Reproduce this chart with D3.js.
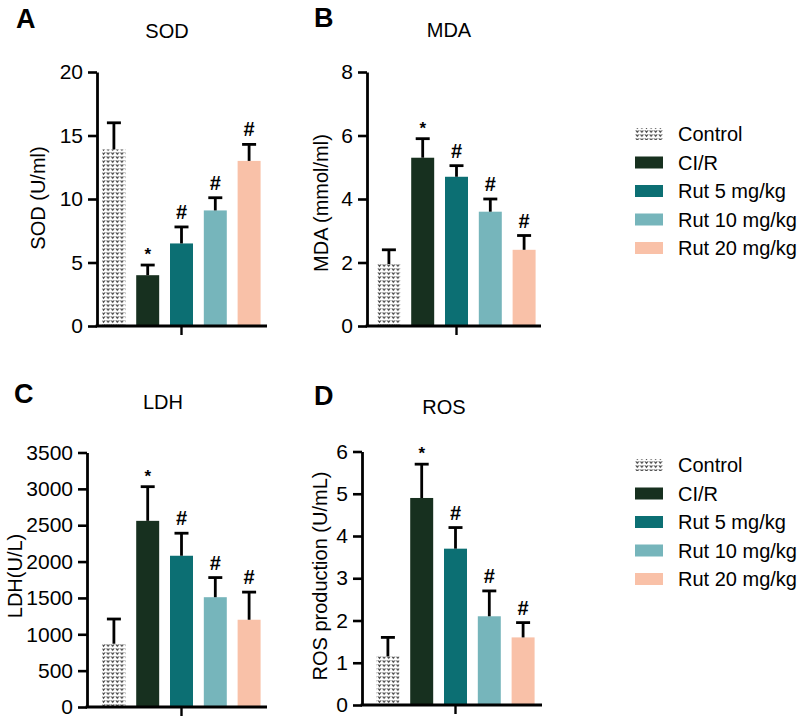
<!DOCTYPE html>
<html>
<head>
<meta charset="utf-8">
<script src="https://cdn.jsdelivr.net/npm/d3@7"></script>
<style>
  html, body { margin: 0; padding: 0; background: #fff; }
  svg text { font-family: "Liberation Sans", Arial, Helvetica, sans-serif; fill: #000; }
</style>
</head>
<body>
<svg id="chart" width="805" height="720"></svg>
<script>
// ---------- data ----------
const groups = ["Control", "CI/R", "Rut 5 mg/kg", "Rut 10 mg/kg", "Rut 20 mg/kg"];
const groupColors = ["url(#ctrlPattern)", "#17301f", "#0c6f73", "#76b5bb", "#f9c1a8"];
const sigMarks = ["", "*", "#", "#", "#"];

const sodMean = [13.9, 4.0, 6.5, 9.1, 13.0];
const sodErr  = [2.1, 0.8, 1.3, 1.0, 1.3];
const sodTicks = [0, 5, 10, 15, 20];

const mdaMean = [1.95, 5.3, 4.7, 3.6, 2.4];
const mdaErr  = [0.45, 0.6, 0.35, 0.4, 0.45];
const mdaTicks = [0, 2, 4, 6, 8];

const ldhMean = [870, 2560, 2080, 1510, 1200];
const ldhErr  = [340, 470, 310, 270, 380];
const ldhTicks = [0, 500, 1000, 1500, 2000, 2500, 3000, 3500];

const rosMean = [1.15, 4.9, 3.7, 2.1, 1.6];
const rosErr  = [0.45, 0.8, 0.5, 0.6, 0.35];
const rosTicks = [0, 1, 2, 3, 4, 5, 6];

// ---------- drawing ----------
const svg = d3.select("#chart");
const defs = svg.append("defs");
const pat = defs.append("pattern")
  .attr("id", "ctrlPattern")
  .attr("patternUnits", "userSpaceOnUse")
  .attr("width", 4.6).attr("height", 4);
pat.append("rect").attr("width", 4.6).attr("height", 4).attr("fill", "#ffffff");
pat.append("path")
  .attr("d", "M0.3,0.4 Q1.3,-0.2 2.3,1.0 Q3.3,-0.2 4.3,0.4 L2.3,3.2 Z")
  .attr("fill", "#4a4a4a");

const panels = [
  { letter: "A", title: "SOD", ylabel: "SOD (U/ml)", mean: sodMean, err: sodErr, ticks: sodTicks,
    axisX: 97, xEnd: 267, band: [97, 266], y: [326, 72], letterPos: [16, 28], titlePos: [167, 38], ylabPos: [38, 198] },
  { letter: "B", title: "MDA", ylabel: "MDA (mmol/ml)", mean: mdaMean, err: mdaErr, ticks: mdaTicks,
    axisX: 367, xEnd: 541, band: [372, 541], y: [326, 72], letterPos: [314, 27], titlePos: [449, 37], ylabPos: [321, 203] },
  { letter: "C", title: "LDH", ylabel: "LDH(U/L)", mean: ldhMean, err: ldhErr, ticks: ldhTicks,
    axisX: 87, xEnd: 267, band: [97, 266], y: [707, 452.5], letterPos: [14, 403], titlePos: [163, 409], ylabPos: [15, 576] },
  { letter: "D", title: "ROS", ylabel: "ROS production (U/mL)", mean: rosMean, err: rosErr, ticks: rosTicks,
    axisX: 362, xEnd: 542, band: [371, 540], y: [705, 451.5], letterPos: [314, 405], titlePos: [444, 414], ylabPos: [320, 576] }
];

panels.forEach(p => {
  const g = svg.append("g");
  const x = d3.scaleBand().domain(groups).range(p.band).paddingInner(0.32).paddingOuter(0.16);
  const y = d3.scaleLinear().domain([p.ticks[0], p.ticks[p.ticks.length - 1]]).range(p.y);

  // letter & title
  g.append("text").attr("x", p.letterPos[0]).attr("y", p.letterPos[1])
    .attr("font-size", 27).attr("font-weight", "bold").text(p.letter);
  g.append("text").attr("x", p.titlePos[0]).attr("y", p.titlePos[1])
    .attr("text-anchor", "middle").attr("font-size", 20).text(p.title);
  g.append("text")
    .attr("transform", `translate(${p.ylabPos[0]},${p.ylabPos[1]}) rotate(-90)`)
    .attr("text-anchor", "middle").attr("dy", "0.35em")
    .attr("font-size", 20).text(p.ylabel);

  // bars
  g.selectAll("rect.bar").data(groups).enter().append("rect")
    .attr("class", "bar")
    .attr("x", d => x(d))
    .attr("width", x.bandwidth())
    .attr("y", (d, i) => y(p.mean[i]))
    .attr("height", (d, i) => y(0) - y(p.mean[i]))
    .attr("fill", (d, i) => groupColors[i]);

  // error bars
  const eb = g.selectAll("g.eb").data(groups).enter().append("g")
    .attr("transform", d => `translate(${x(d) + x.bandwidth() / 2},0)`);
  eb.append("line")
    .attr("y1", (d, i) => y(p.mean[i]))
    .attr("y2", (d, i) => y(p.mean[i] + p.err[i]))
    .attr("stroke", "#000").attr("stroke-width", 2.8);
  eb.append("line")
    .attr("x1", -7).attr("x2", 7)
    .attr("y1", (d, i) => y(p.mean[i] + p.err[i]))
    .attr("y2", (d, i) => y(p.mean[i] + p.err[i]))
    .attr("stroke", "#000").attr("stroke-width", 2.8);
  eb.append("text")
    .attr("text-anchor", "middle")
    .attr("y", (d, i) => y(p.mean[i] + p.err[i]) - (sigMarks[i] === "*" ? 5 : 8))
    .attr("font-size", (d, i) => sigMarks[i] === "*" ? 17 : 20)
    .attr("font-weight", "bold")
    .text((d, i) => sigMarks[i]);

  // y axis
  const yAxis = d3.axisLeft(y).tickValues(p.ticks).tickFormat(d3.format("d"))
    .tickSize(9).tickPadding(5).tickSizeOuter(0);
  const ya = g.append("g").attr("transform", `translate(${p.axisX},0)`).call(yAxis);
  ya.select(".domain").attr("stroke-width", 2.8);
  ya.selectAll(".tick line").attr("stroke-width", 2.6);
  ya.selectAll(".tick text").attr("font-size", 21)
    .style("font-family", '"Liberation Sans", Arial, sans-serif');

  // x axis line + centre tick
  g.append("line").attr("x1", p.axisX - 1.4).attr("x2", p.xEnd)
    .attr("y1", y(0)).attr("y2", y(0))
    .attr("stroke", "#000").attr("stroke-width", 2.8);
  const cx = (p.band[0] + p.band[1]) / 2;
  g.append("line").attr("x1", cx).attr("x2", cx)
    .attr("y1", y(0)).attr("y2", y(0) + 9)
    .attr("stroke", "#000").attr("stroke-width", 2.4);
});

// ---------- legends ----------
[[134], [465]].forEach(([top]) => {
  const lg = svg.append("g").attr("transform", `translate(635,${top})`);
  const step = 28.5;
  const items = lg.selectAll("g").data(groups).enter().append("g")
    .attr("transform", (d, i) => `translate(0,${i * step})`);
  items.append("rect").attr("x", 0).attr("y", -6).attr("width", 28).attr("height", 12)
    .attr("fill", (d, i) => groupColors[i]);
  items.append("text").attr("x", 43).attr("y", 7).attr("font-size", 20).text(d => d);
});
</script>
</body>
</html>
